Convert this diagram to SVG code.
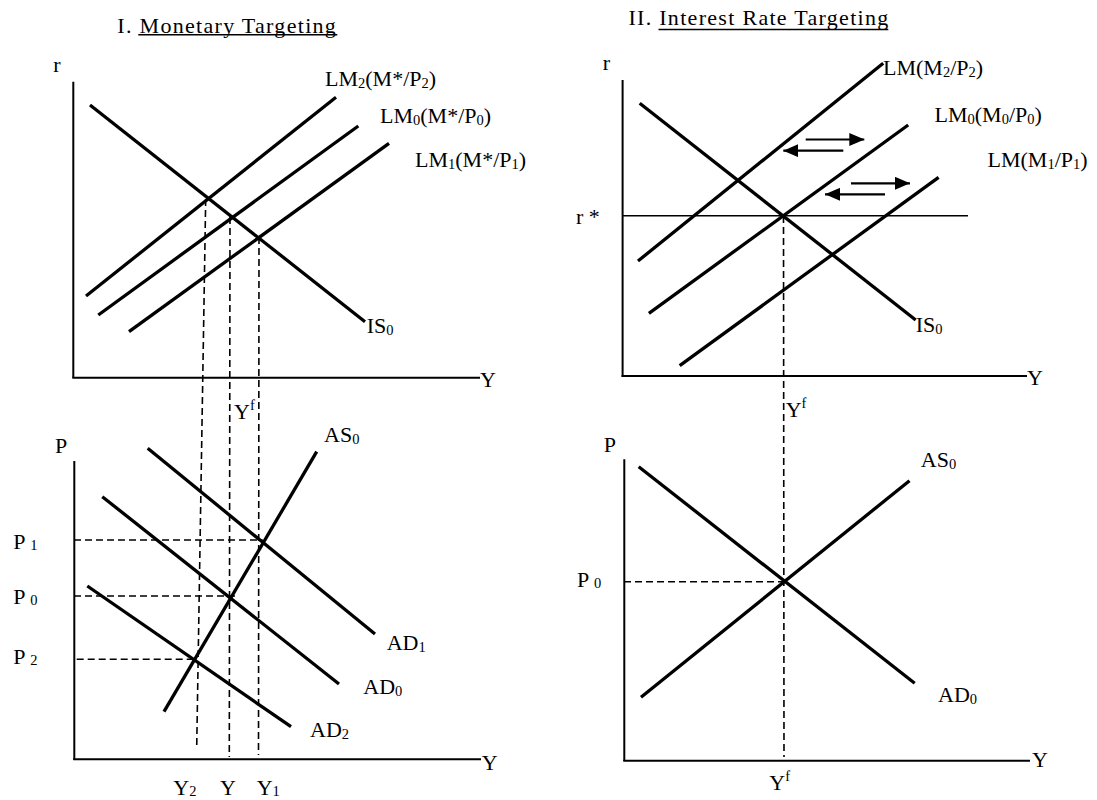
<svg xmlns="http://www.w3.org/2000/svg" width="1097" height="800" viewBox="0 0 1097 800">
<style>
text{font-family:"Liberation Serif","Times New Roman",serif;font-size:22px;fill:#000}
.title{letter-spacing:1.3px}
.sub{font-size:14.5px}
.sup{font-size:14.5px}
.ax{stroke:#000;stroke-width:2;fill:none}
.cv{stroke:#000;stroke-width:3.3;fill:none;stroke-linecap:butt}
.dash{stroke:#000;stroke-width:1.6;fill:none;stroke-dasharray:7 4}
.thin{stroke:#000;stroke-width:1.4;fill:none}
.arr{stroke:#000;stroke-width:2.2;fill:none;marker-end:url(#ah)}
.ul{stroke:#000;stroke-width:1.4}
</style>
<defs>
<marker id="ah" markerUnits="userSpaceOnUse" markerWidth="15" markerHeight="13" viewBox="0 0 15 13" refX="15" refY="6.5" orient="auto">
<path d="M0,0 L15,6.5 L0,13 z" fill="#000"/>
</marker>
</defs>
<rect width="1097" height="800" fill="#fff"/>

<!-- Titles -->
<g id="title1">
<text class="title" x="117.3" y="32.7">I. Monetary Targeting</text>
<line class="ul" x1="138.3" y1="34.8" x2="337.3" y2="34.8"/>
</g>
<g id="title2">
<text class="title" x="628.4" y="25">II. Interest Rate Targeting</text>
<line class="ul" x1="658.5" y1="29.5" x2="888.3" y2="29.5"/>
</g>

<!-- Panel I top: IS-LM -->
<g id="panel-I-ISLM">
<line class="ax" x1="73.3" y1="81.7" x2="73.3" y2="378"/>
<line class="ax" x1="72.3" y1="377.7" x2="480" y2="377.7"/>
<text x="53.3" y="71.7">r</text>
<text x="480" y="387">Y</text>
<line class="cv" x1="90" y1="105" x2="365" y2="321.7"/>
<line class="cv" x1="86" y1="296" x2="336" y2="97.3"/>
<line class="cv" x1="98.3" y1="315" x2="358.3" y2="126"/>
<line class="cv" x1="129" y1="331.7" x2="389" y2="143.3"/>
<text x="366.7" y="333">IS<tspan class="sub" dy="2">0</tspan></text>
<text x="325" y="86">LM<tspan class="sub" dy="2">2</tspan><tspan dy="-2">(M*/P</tspan><tspan class="sub" dy="2">2</tspan><tspan dy="-2">)</tspan></text>
<text x="380" y="123">LM<tspan class="sub" dy="2">0</tspan><tspan dy="-2">(M*/P</tspan><tspan class="sub" dy="2">0</tspan><tspan dy="-2">)</tspan></text>
<text x="415" y="166.7">LM<tspan class="sub" dy="2">1</tspan><tspan dy="-2">(M*/P</tspan><tspan class="sub" dy="2">1</tspan><tspan dy="-2">)</tspan></text>
</g>

<!-- Panel I bottom: AS-AD -->
<g id="panel-I-ASAD">
<line class="ax" x1="74.3" y1="461" x2="74.3" y2="760"/>
<line class="ax" x1="73.3" y1="759.3" x2="481" y2="759.3"/>
<text x="55" y="453">P</text>
<text x="481.7" y="770">Y</text>
<line class="cv" x1="164" y1="711.7" x2="316.7" y2="451.7"/>
<line class="cv" x1="147.7" y1="448.3" x2="375" y2="634"/>
<line class="cv" x1="102.3" y1="496.7" x2="339" y2="684"/>
<line class="cv" x1="87.3" y1="586" x2="291" y2="726.7"/>
<text x="324" y="441.7">AS<tspan class="sub" dy="2">0</tspan></text>
<text x="386.7" y="650">AD<tspan class="sub" dy="2">1</tspan></text>
<text x="363.3" y="694">AD<tspan class="sub" dy="2">0</tspan></text>
<text x="310" y="736.7">AD<tspan class="sub" dy="2">2</tspan></text>
<text x="13.3" y="549.3">P <tspan class="sub" dy="1">1</tspan></text>
<text x="13.3" y="604.3">P <tspan class="sub" dy="1">0</tspan></text>
<text x="13.3" y="664">P <tspan class="sub" dy="1">2</tspan></text>
<text x="234" y="419.3">Y<tspan class="sup" dy="-9">f</tspan></text>
<text x="173.3" y="795">Y<tspan class="sub" dy="1">2</tspan></text>
<text x="220" y="795">Y</text>
<text x="256.7" y="795">Y<tspan class="sub" dy="1">1</tspan></text>
</g>

<!-- Panel II top: IS-LM with r* -->
<g id="panel-II-ISLM">
<line class="ax" x1="622.6" y1="80" x2="622.6" y2="377"/>
<line class="ax" x1="621.6" y1="376" x2="1027" y2="376"/>
<text x="602.8" y="70">r</text>
<text x="576" y="224.3">r *</text>
<text x="1027" y="385">Y</text>
<line class="thin" x1="622.6" y1="215.7" x2="968" y2="215.7"/>
<line class="cv" x1="639.7" y1="103.3" x2="915.7" y2="320"/>
<line class="cv" x1="638" y1="261" x2="883.2" y2="63.3"/>
<line class="cv" x1="648.9" y1="313.3" x2="908.2" y2="125"/>
<line class="cv" x1="679.7" y1="365.7" x2="938.6" y2="177.3"/>
<text x="915.7" y="331.7">IS<tspan class="sub" dy="2">0</tspan></text>
<text x="883" y="75">LM(M<tspan class="sub" dy="2">2</tspan><tspan dy="-2">/P</tspan><tspan class="sub" dy="2">2</tspan><tspan dy="-2">)</tspan></text>
<text x="934.5" y="121.7">LM<tspan class="sub" dy="2">0</tspan><tspan dy="-2">(M</tspan><tspan class="sub" dy="2">0</tspan><tspan dy="-2">/P</tspan><tspan class="sub" dy="2">0</tspan><tspan dy="-2">)</tspan></text>
<text x="987.5" y="166.7">LM(M<tspan class="sub" dy="2">1</tspan><tspan dy="-2">/P</tspan><tspan class="sub" dy="2">1</tspan><tspan dy="-2">)</tspan></text>
</g>

<!-- Panel II bottom: AS-AD -->
<g id="panel-II-ASAD">
<line class="ax" x1="624.3" y1="459.3" x2="624.3" y2="761"/>
<line class="ax" x1="623.3" y1="760.7" x2="1030" y2="760.7"/>
<text x="603.8" y="451.7">P</text>
<text x="1032" y="767">Y</text>
<line class="cv" x1="638.7" y1="466.7" x2="914.7" y2="683.3"/>
<line class="cv" x1="641" y1="697.3" x2="909.5" y2="480.7"/>
<text x="920.8" y="467">AS<tspan class="sub" dy="2">0</tspan></text>
<text x="938" y="702">AD<tspan class="sub" dy="2">0</tspan></text>
<text x="577" y="586.7">P <tspan class="sub" dy="1">0</tspan></text>
<text x="785.7" y="416.7">Y<tspan class="sup" dy="-9">f</tspan></text>
<text x="769.3" y="790">Y<tspan class="sup" dy="-9">f</tspan></text>
</g>

<!-- Connectors: guide lines and arrows -->
<g id="connectors">
<line class="dash" x1="205.7" y1="199" x2="196.7" y2="748"/>
<line class="dash" x1="230" y1="217" x2="229.3" y2="757"/>
<line class="dash" x1="259" y1="237" x2="258.5" y2="755"/>
<line class="dash" x1="74" y1="540" x2="262.7" y2="540"/>
<line class="dash" x1="74" y1="596" x2="236.7" y2="596"/>
<line class="dash" x1="76.7" y1="659.3" x2="195" y2="659.3"/>
<line class="dash" x1="783.5" y1="216" x2="784" y2="757"/>
<line class="dash" x1="624" y1="581.7" x2="784" y2="581.7"/>
<line class="arr" x1="805.7" y1="139.5" x2="864.3" y2="139.5"/>
<line class="arr" x1="843.3" y1="150.7" x2="783.3" y2="150.7"/>
<line class="arr" x1="851" y1="183.3" x2="910" y2="183.3"/>
<line class="arr" x1="885" y1="194.3" x2="825" y2="194.3"/>
</g>
</svg>
